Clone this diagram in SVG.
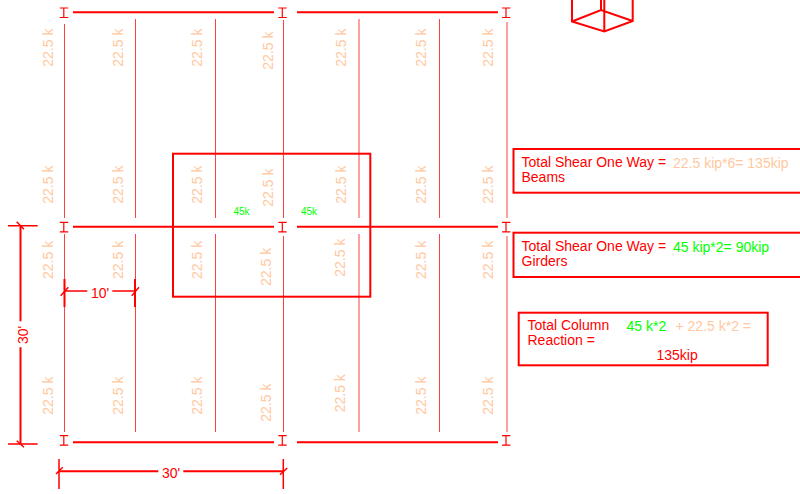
<svg xmlns="http://www.w3.org/2000/svg" width="800" height="494" viewBox="0 0 800 494">
<style>
text{font-family:"Liberation Sans",Arial,sans-serif}
.l{fill:#ffc8a0;font-size:14px}
.r{fill:#ff0000;font-size:14px}
.g{fill:#00ff00;font-size:14px}
.s{fill:#00ff00;font-size:10px}
.v{stroke:#ff0000;stroke-width:1;fill:none;stroke-opacity:.75}
.h{stroke:#ff0000;stroke-width:2;fill:none}
.i{stroke:#ff0000;stroke-width:1.2;fill:none}
.b{stroke:#ff0000;stroke-width:2;fill:none}
.d{stroke:#ff0000;stroke-width:1.5;fill:none}
</style>
<defs>
<path id="ib" d="M-4-5H4.400M-4 4.500H4.400M0-5V4.500"/>
</defs>
<g id="connectors">
<path class="v" d="M64.500 24V218M64.500 234V432M135.500 19V218M135.500 234V432M215.500 19V218M215.500 234V432M283.500 20V218M283.500 236V432M359 19V218M359 234V432M439.500 19V218M439.500 234V432M507 22V218M507 236V432"/>
<path class="h" d="M73 12.300H274M297 12.300H498M73 226.800H274M297 226.800H498M73 442.300H274M297 442.300H498"/>
<g class="i">
<use href="#ib" x="63.800" y="13"/><use href="#ib" x="282.300" y="13"/><use href="#ib" x="506" y="13"/>
<use href="#ib" x="63.800" y="227.300"/><use href="#ib" x="282.300" y="227.300"/><use href="#ib" x="506" y="227.300"/>
<use href="#ib" x="63.800" y="440.700"/><use href="#ib" x="282.300" y="440.700"/><use href="#ib" x="506" y="440.700"/>
</g>
</g>
<g id="loads">
<text class="l" transform="translate(52.500 66.700) rotate(-90)">22.5 k</text>
<text class="l" transform="translate(122.700 66.700) rotate(-90)">22.5 k</text>
<text class="l" transform="translate(201.700 66.700) rotate(-90)">22.5 k</text>
<text class="l" transform="translate(273.300 69.700) rotate(-90)">22.5 k</text>
<text class="l" transform="translate(346 66.700) rotate(-90)">22.5 k</text>
<text class="l" transform="translate(425.700 66.700) rotate(-90)">22.5 k</text>
<text class="l" transform="translate(493.300 66.700) rotate(-90)">22.5 k</text>
<text class="l" transform="translate(52.500 203.700) rotate(-90)">22.5 k</text>
<text class="l" transform="translate(122.700 203.700) rotate(-90)">22.5 k</text>
<text class="l" transform="translate(201.700 203.700) rotate(-90)">22.5 k</text>
<text class="l" transform="translate(273.300 206.700) rotate(-90)">22.5 k</text>
<text class="l" transform="translate(346 203.700) rotate(-90)">22.5 k</text>
<text class="l" transform="translate(425.700 203.700) rotate(-90)">22.5 k</text>
<text class="l" transform="translate(493.300 203.700) rotate(-90)">22.5 k</text>
<text class="l" transform="translate(52.500 279) rotate(-90)">22.5 k</text>
<text class="l" transform="translate(122.700 279) rotate(-90)">22.5 k</text>
<text class="l" transform="translate(201.700 279) rotate(-90)">22.5 k</text>
<text class="l" transform="translate(271 286) rotate(-90)">22.5 k</text>
<text class="l" transform="translate(345 276.700) rotate(-90)">22.5 k</text>
<text class="l" transform="translate(425.700 279) rotate(-90)">22.5 k</text>
<text class="l" transform="translate(493.300 279) rotate(-90)">22.5 k</text>
<text class="l" transform="translate(52.500 414.700) rotate(-90)">22.5 k</text>
<text class="l" transform="translate(122.700 414.700) rotate(-90)">22.5 k</text>
<text class="l" transform="translate(201.700 414.700) rotate(-90)">22.5 k</text>
<text class="l" transform="translate(271 421.700) rotate(-90)">22.5 k</text>
<text class="l" transform="translate(345 412.300) rotate(-90)">22.5 k</text>
<text class="l" transform="translate(425.700 414.700) rotate(-90)">22.5 k</text>
<text class="l" transform="translate(493.300 414.700) rotate(-90)">22.5 k</text>
<text class="s" x="233.500" y="215">45k</text>
<text class="s" x="301" y="215">45k</text>
</g>
<g id="tributary"><rect class="b" x="173" y="153.700" width="197.300" height="143"/></g>
<g id="cube"><path class="b" d="M572 0V21.500L604.300 31.500L632.700 21V0M572 21.500L601 10L632.700 21M601 0V10M604.300 0V31.500"/></g>
<g id="dim-10">
<path class="d" d="M65 291H87.300M112.300 291H135"/>
<path class="h" d="M64.500 279V307M135 279V307"/>
<path class="d" d="M60.700 295.700L68.300 287.300M131.700 295.700L139 287.300"/>
<text class="r" x="100" y="298.300" text-anchor="middle">10'</text>
</g>
<g id="dim-30-v">
<path class="h" d="M20.500 226V321.300M20.500 347.300V444"/>
<path class="d" d="M8 225.700H37.700M8 444H37.700M16.700 221.700L24 229.300M16.700 440.700L24 447.300"/>
<text class="r" transform="translate(28 344) rotate(-90)">30'</text>
</g>
<g id="dim-30-h">
<path class="h" d="M59 471.300H158.300M183.300 471.300H283.300"/>
<path class="d" d="M59 459V489M283.300 459V489M56 474L62.700 467.300M280 474.700L287.300 468"/>
<text class="r" x="171" y="478" text-anchor="middle">30'</text>
</g>
<g id="beams-note">
<rect class="b" x="513.500" y="149" width="300" height="43.700"/>
<text class="r" x="521.500" y="166.700">Total Shear One Way =</text>
<text class="l" x="673" y="167.500">22.5 kip*6= 135kip</text>
<text class="r" x="521.500" y="182.300">Beams</text>
</g>
<g id="girders-note">
<rect class="b" x="513.500" y="232.700" width="300" height="44.300"/>
<text class="r" x="521.500" y="250.700">Total Shear One Way =</text>
<text class="g" x="673" y="251.500">45 kip*2= 90kip</text>
<text class="r" x="521.500" y="266.300">Girders</text>
</g>
<g id="column-note">
<rect class="b" x="518.700" y="312.700" width="249" height="52.600"/>
<text class="r" x="527.500" y="329.500">Total Column</text>
<text class="g" x="626.500" y="331">45 k*2</text>
<text class="l" x="675.500" y="330.500">+ 22.5 k*2 =</text>
<text class="r" x="527.500" y="344.800">Reaction =</text>
<text class="r" x="656.500" y="360">135kip</text>
</g>
</svg>
